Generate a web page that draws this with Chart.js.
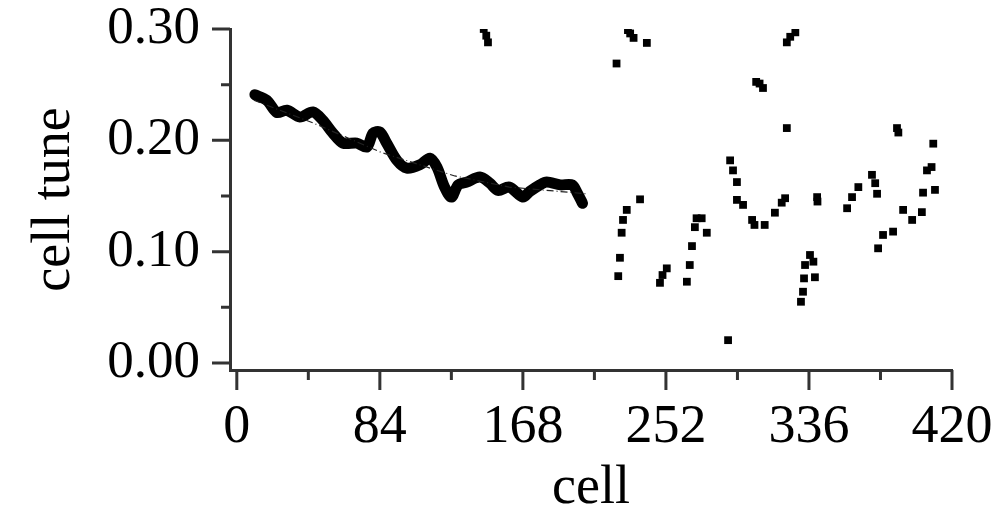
<!DOCTYPE html>
<html>
<head>
<meta charset="utf-8">
<script src="https://cdn.jsdelivr.net/npm/chart.js@4.4.1/dist/chart.umd.min.js"></script>
<style>
  html, body { margin: 0; padding: 0; background: #fff; }
  #wrap { width: 996px; height: 518px; }
</style>
</head>
<body>
<div id="wrap"><canvas id="tuneChart" width="996" height="518"></canvas></div>
<script>
// cells 0..205: the dense run
const runCells  = [10.6, 17.6, 23.5, 29.4, 37, 44.7, 50.5, 56.4, 62.3, 70.5, 76.4, 80, 84, 88, 94, 99.9, 107.5, 113.4, 117.5, 122, 126, 130, 135, 142.8, 148.6, 153.4, 160, 168, 172, 178, 182, 190, 197, 200, 203];
const runValues = [0.241, 0.236, 0.225, 0.227, 0.221, 0.2255, 0.218, 0.2065, 0.1975, 0.1975, 0.194, 0.2065, 0.2075, 0.1975, 0.182, 0.175, 0.178, 0.184, 0.176, 0.158, 0.149, 0.160, 0.1625, 0.167, 0.1615, 0.155, 0.158, 0.149, 0.154, 0.160, 0.1625, 0.160, 0.160, 0.1525, 0.1435];

// thin dash-dot trend behind the run
const trendCells  = [10, 45, 85, 128, 160, 205];
const trendValues = [0.236, 0.2155, 0.189, 0.168, 0.158, 0.152];

// scattered cells
const dotCells  = [145, 146.5, 147.5,
  223, 229.7, 231, 233, 240.8,
  224, 225, 226, 226.8, 229, 236.8,
  248.5, 250, 252.5, 264.3, 266, 267.3, 269, 270, 273, 276,
  288.5, 289.7, 291.4, 293.7, 293.7, 297.3, 302.6, 304, 310, 316, 320, 322,
  305, 307, 309, 323, 325, 328, 323,
  331.3, 332.5, 333.1, 333.7, 336.6, 338.6, 339.5, 340.8, 341,
  358.4, 361.3, 365, 373, 374.9, 376, 376.6, 379.5, 385.4,
  387.7, 388.5, 391.3, 396.6, 402.3, 403, 405.3, 408, 409, 410];
const dotValues = [0.300, 0.294, 0.288,
  0.269, 0.299, 0.296, 0.292, 0.2875,
  0.078, 0.0945, 0.117, 0.1285, 0.1375, 0.147,
  0.072, 0.079, 0.085, 0.073, 0.088, 0.105, 0.122, 0.130, 0.130, 0.117,
  0.0205, 0.182, 0.173, 0.1625, 0.1465, 0.142, 0.1285, 0.124, 0.124, 0.135, 0.144, 0.148,
  0.2525, 0.251, 0.247, 0.288, 0.293, 0.297, 0.211,
  0.055, 0.064, 0.076, 0.088, 0.097, 0.091, 0.077, 0.149, 0.145,
  0.139, 0.149, 0.158, 0.169, 0.1615, 0.152, 0.103, 0.115, 0.118,
  0.211, 0.207, 0.1375, 0.1285, 0.1355, 0.153, 0.173, 0.176, 0.197, 0.1555];

const xTicks = [0, 84, 168, 252, 336, 420];
const xMinor = [42, 126, 210, 294, 378];
const yTicks = [0, 0.1, 0.2, 0.3];
const yMinor = [0.05, 0.15, 0.25];

const pts = (xs, ys) => xs.map((x, i) => ({ x: x, y: ys[i] }));
const serif = '"Liberation Serif", "Times New Roman", serif';
const axisInk = '#333';

// the plot box is fixed by hand, so drop the scales' own label overhang
function noPad(s) {
    s.paddingTop = 0; s.paddingBottom = 0; s.paddingLeft = 0; s.paddingRight = 0;
}

// outward tick marks, long at labelled values, short in between
const tickMarks = {
    id: 'tickMarks',
    afterDraw(chart) {
        const ctx = chart.ctx;
        const xs = chart.scales.x, ys = chart.scales.y;
        const area = chart.chartArea;
        ctx.save();
        ctx.strokeStyle = axisInk;
        ctx.lineWidth = 3;
        ctx.beginPath();
        yTicks.forEach(v => { const p = ys.getPixelForValue(v); ctx.moveTo(area.left - 18, p); ctx.lineTo(area.left, p); });
        yMinor.forEach(v => { const p = ys.getPixelForValue(v); ctx.moveTo(area.left - 9, p); ctx.lineTo(area.left, p); });
        xTicks.forEach(v => { const p = xs.getPixelForValue(v); ctx.moveTo(p, area.bottom); ctx.lineTo(p, area.bottom + 20); });
        xMinor.forEach(v => { const p = xs.getPixelForValue(v); ctx.moveTo(p, area.bottom); ctx.lineTo(p, area.bottom + 10); });
        ctx.stroke();
        ctx.restore();
    }
};

const ctx = document.getElementById('tuneChart').getContext('2d');
new Chart(ctx, {
    type: 'scatter',
    data: {
        datasets: [
            {
                label: 'trend',
                data: pts(trendCells, trendValues),
                showLine: true,
                borderColor: '#222',
                borderWidth: 1.2,
                borderDash: [7, 3, 1, 3],
                pointRadius: 0
            },
            {
                label: 'run',
                data: pts(runCells, runValues),
                showLine: true,
                borderColor: '#000',
                borderWidth: 11,
                borderCapStyle: 'round',
                borderJoinStyle: 'round',
                tension: 0.3,
                pointRadius: 0
            },
            {
                label: 'cells',
                data: pts(dotCells, dotValues),
                pointStyle: 'rect',
                pointRadius: 5.5,
                backgroundColor: '#000',
                borderColor: '#000',
                borderWidth: 0
            }
        ]
    },
    options: {
        responsive: false,
        animation: false,
        layout: { padding: { top: 29, right: 44, left: 0, bottom: 0 } },
        plugins: { legend: { display: false }, tooltip: { enabled: false } },
        scales: {
            x: {
                type: 'linear',
                min: -4,
                max: 420,
                afterBuildTicks: s => { s.ticks = xTicks.map(v => ({ value: v })); },
                afterFit: s => { s.height = 148; noPad(s); },
                grid: { display: false, drawTicks: false },
                border: { display: true, color: axisInk, width: 3 },
                ticks: { padding: 31, color: '#000', maxRotation: 0, font: { family: serif, size: 54, lineHeight: 1 } },
                title: { display: true, text: 'cell', color: '#000', padding: { top: 0, bottom: 2 }, font: { family: serif, size: 54, lineHeight: 1 } }
            },
            y: {
                min: -0.0063,
                max: 0.30,
                afterBuildTicks: s => { s.ticks = yTicks.map(v => ({ value: v })); },
                afterFit: s => { s.width = 230; noPad(s); },
                grid: { display: false, drawTicks: false },
                border: { display: true, color: axisInk, width: 3 },
                ticks: { padding: 30, color: '#000', font: { family: serif, size: 53, lineHeight: 1 }, callback: v => v.toFixed(2) },
                title: { display: true, text: 'cell tune', color: '#000', padding: { top: 28, bottom: 0 }, font: { family: serif, size: 54, lineHeight: 1 } }
            }
        }
    },
    plugins: [tickMarks]
});
</script>
</body>
</html>
